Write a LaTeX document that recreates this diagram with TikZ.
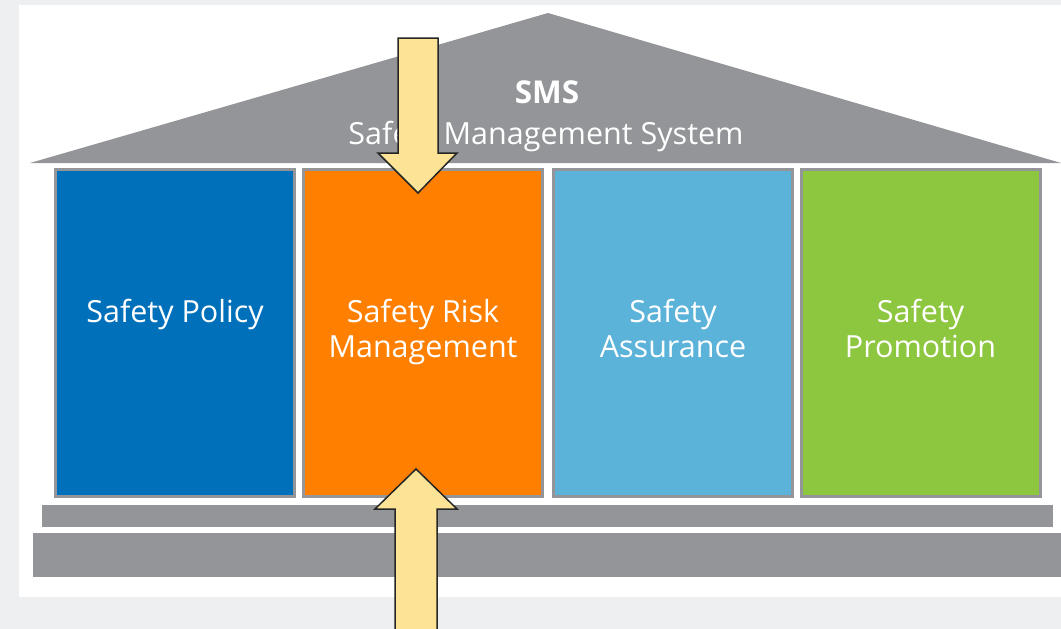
\documentclass[tikz,border=0pt]{standalone}
\usepackage{fontspec}
\setmainfont{Open Sans}
\usetikzlibrary{positioning}
\definecolor{bggrey}{HTML}{EEEFF1}
\definecolor{roofgrey}{HTML}{939598}
\definecolor{policyblue}{HTML}{0070BA}
\definecolor{riskorange}{HTML}{FF7F00}
\definecolor{assurecyan}{HTML}{5BB3D9}
\definecolor{promogreen}{HTML}{8DC63F}
\definecolor{arrowyellow}{HTML}{FCE396}
\tikzset{
    pillar/.style={draw=roofgrey, line width=3pt, minimum width=239pt, minimum height=327pt, inner sep=0pt},
    pillartext/.style={text=white, font=\fontsize{30.5}{35}\selectfont, align=center, anchor=north, inner sep=0pt},
    rooftext/.style={text=white, anchor=base, inner sep=0pt},
    stepbar/.style={fill=roofgrey},
    bigarrow/.style={fill=arrowyellow, draw=black!85, line width=1.5pt, line join=miter}
}

\begin{document}
\begin{tikzpicture}[x=1pt, y=-1pt]
    \useasboundingbox (0,0) rectangle (1061,629);
    \fill[bggrey] (0,0) rectangle (1061,629);
    \fill[white] (19,5) rectangle (1061,597);

    \fill[roofgrey] (30,163) -- (548,13) -- (1061,163) -- cycle;
    \node[rooftext, font=\bfseries\fontsize{31.5}{36}\selectfont] (sms) at (547,103) {SMS};
    \node[rooftext, font=\fontsize{30.5}{36}\selectfont] (smsfull) at (546,144) {Safety Management System};

    \node[pillar, fill=policyblue] (policy) at (175,333) {};
    \node[pillar, fill=riskorange] (risk) at (423,333) {};
    \node[pillar, fill=assurecyan] (assure) at (673,333) {};
    \node[pillar, fill=promogreen] (promo) at (920.5,333) {};

    \node[pillartext, below=131pt of policy.north] (policytext) {Safety Policy};
    \node[pillartext, below=131pt of risk.north] (risktext) {Safety Risk\\Management};
    \node[pillartext, below=131pt of assure.north] (assuretext) {Safety\\Assurance};
    \node[pillartext, below=131pt of promo.north] (promotext) {Safety\\Promotion};

    \fill[stepbar] (42,505) rectangle (1053,527);
    \fill[stepbar] (33,533) rectangle (1061,577);

    \draw[bigarrow] (398,38) -- (438,38) -- (438,153) -- (457,153) -- (418,193)
        -- (378,153) -- (398,153) -- cycle;
    \draw[bigarrow] (395,640) -- (395,509) -- (375,509) -- (416,469) -- (457,509)
        -- (437,509) -- (437,640);
\end{tikzpicture}
\end{document}
